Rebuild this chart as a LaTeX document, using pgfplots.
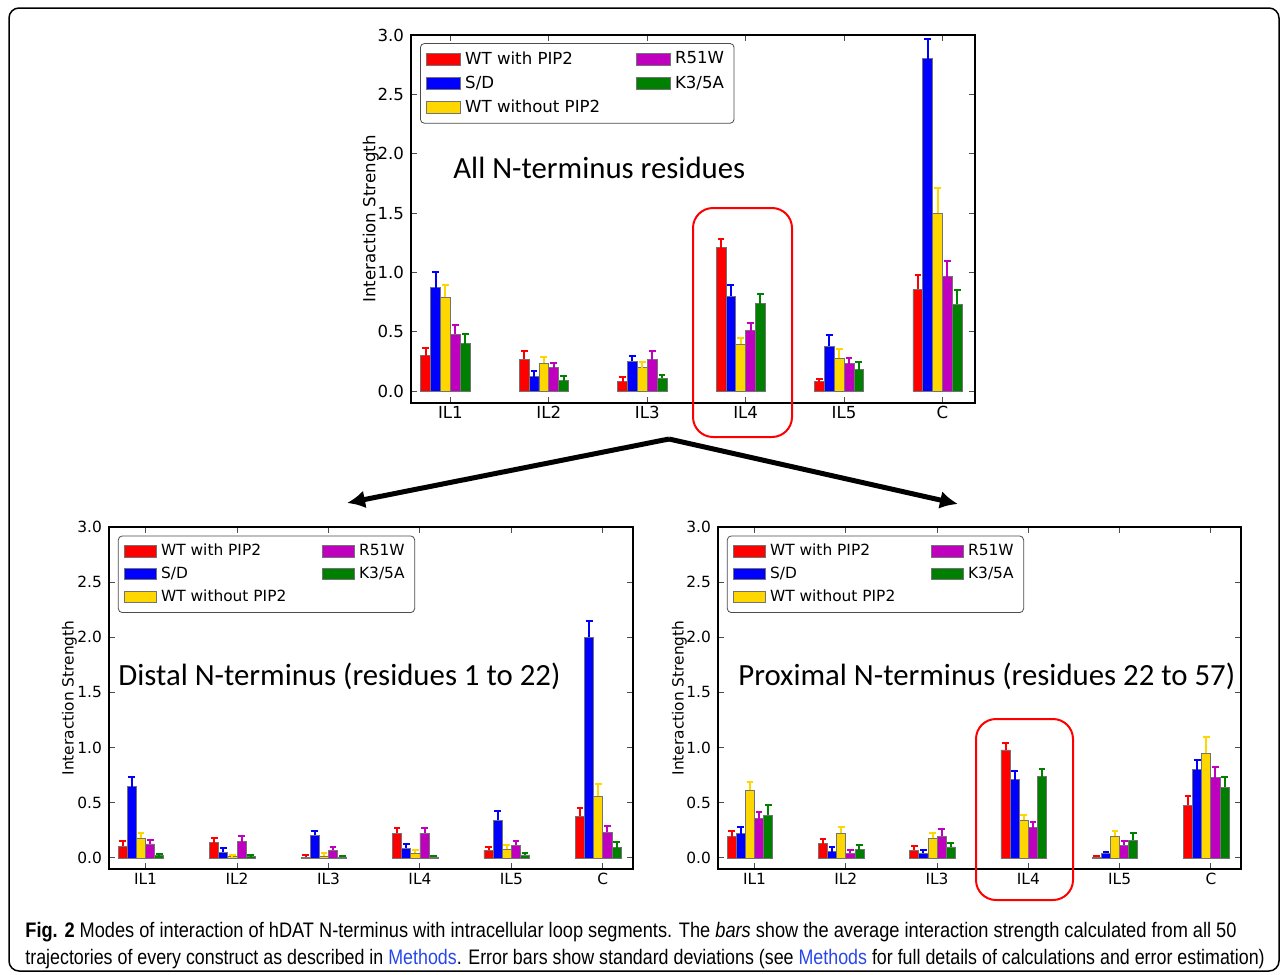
\documentclass[border=0pt]{standalone}
\usepackage{pgfplots}
\pgfplotsset{compat=1.18}
\usepackage{pgfplotstable}
\usepackage{fontspec}
\setmainfont{DejaVu Sans}
\newfontfamily\titlefont{Carlito}
\newfontfamily\capfont[FakeStretch=0.86]{Liberation Sans}
\usetikzlibrary{arrows.meta}

\definecolor{mpred}{rgb}{1,0,0}
\definecolor{mpblue}{rgb}{0,0,1}
\definecolor{mpgold}{RGB}{255,215,0}
\definecolor{mpmag}{rgb}{0.75,0,0.75}
\definecolor{mpgreen}{rgb}{0,0.5,0}
\definecolor{linkblue}{RGB}{40,70,235}

% columns: WT with PIP2, S/D, WT without PIP2, R51W, K3/5A (value, error)
\pgfplotstableread{
cat wr   wre   sd   sde   wo    woe   rw    rwe   ka    kae
0   0.30  0.065 0.87 0.13  0.79  0.10  0.48  0.075 0.40  0.085
1   0.27  0.065 0.12 0.05  0.235 0.055 0.196 0.045 0.087 0.04
2   0.08  0.04  0.25 0.05  0.196 0.05  0.266 0.075 0.11  0.03
3   1.207 0.075 0.80 0.09  0.395 0.056 0.51  0.065 0.737 0.08
4   0.078 0.022 0.38 0.09  0.275 0.08  0.232 0.05  0.182 0.06
5   0.857 0.12  2.80 0.17  1.50  0.21  0.964 0.13  0.73  0.12
}\alltab

\pgfplotstableread{
cat wr   wre   sd   sde   wo    woe   rw    rwe   ka    kae
0   0.105 0.045 0.645 0.093 0.178 0.048 0.127 0.035 0.02  0.016
1   0.139 0.041 0.054 0.036 0.012 0.018 0.148 0.048 0.012 0.015
2   0.006 0.018 0.205 0.042 0.018 0.024 0.069 0.027 0.009 0.009
3   0.226 0.044 0.087 0.039 0.045 0.03  0.226 0.048 0.009 0.006
4   0.072 0.024 0.34  0.09  0.081 0.039 0.117 0.04  0.027 0.018
5   0.376 0.074 2.0   0.148 0.56  0.11  0.232 0.058 0.093 0.052
}\distab

\pgfplotstableread{
cat wr   wre   sd   sde   wo    woe   rw    rwe   ka    kae
0   0.193 0.051 0.22  0.06  0.614 0.073 0.355 0.058 0.386 0.09
1   0.13  0.045 0.057 0.039 0.226 0.054 0.045 0.024 0.075 0.039
2   0.072 0.038 0.045 0.027 0.178 0.048 0.196 0.066 0.10  0.033
3   0.979 0.061 0.71  0.076 0.343 0.047 0.274 0.051 0.735 0.075
4   0.006 0.009 0.042 0.015 0.199 0.048 0.117 0.037 0.16  0.063
5   0.48  0.086 0.80  0.086 0.949 0.147 0.729 0.099 0.639 0.099
}\proxtab

\pgfplotsset{
  panel/.style={
    scale only axis,
    xmin=-0.4, xmax=5.33, ymin=-0.1, ymax=3.0,
    xtick={0,...,5}, xticklabels={IL1,IL2,IL3,IL4,IL5,C},
    ytick={0,0.5,...,3.0},
    yticklabel style={/pgf/number format/.cd, fixed, fixed zerofill, precision=1},
    /pgf/number format/assume math mode=true,
    tick align=inside, major tick length=3pt,
    tick style={black!70, line width=0.5pt},
    axis line style={line width=1pt},
    ylabel={Interaction Strength},
    legend columns=2,
    legend cell align=left,
    legend image code/.code={\draw[#1, sharp corners] (0pt,-3pt) rectangle (17pt,3pt);},
    legend style={anchor=north west, draw=black!70, rounded corners=2pt,
      /tikz/every even column/.append style={column sep=16pt}},
  },
  % one series: bars of width 0.1 at category + offset, upward error bar with cap
  bseries/.style={ybar, bar width=0.1, bar shift=0pt, fill=#1,
    draw=black!55, line width=0.4pt, forget plot,
    error bars/.cd, y dir=plus, y explicit, error mark=-,
    error bar style={#1, line width=1pt},
    error mark options={#1, line width=1pt, mark size=1.7pt, rotate=90}},
}

\newcommand{\plotpanel}[1]{%
  \addplot[bseries=mpred] table[x expr=\thisrow{cat}-0.25, y=wr, y error=wre] {#1};
  \addplot[bseries=mpblue] table[x expr=\thisrow{cat}-0.15, y=sd, y error=sde] {#1};
  \addplot[bseries=mpgold] table[x expr=\thisrow{cat}-0.05, y=wo, y error=woe] {#1};
  \addplot[bseries=mpmag] table[x expr=\thisrow{cat}+0.05, y=rw, y error=rwe] {#1};
  \addplot[bseries=mpgreen] table[x expr=\thisrow{cat}+0.15, y=ka, y error=kae] {#1};
  \addlegendimage{fill=mpred, draw=black!55}\addlegendentry{WT with PIP2}
  \addlegendimage{fill=mpmag, draw=black!55}\addlegendentry{R51W}
  \addlegendimage{fill=mpblue, draw=black!55}\addlegendentry{S/D}
  \addlegendimage{fill=mpgreen, draw=black!55}\addlegendentry{K3/5A}
  \addlegendimage{fill=mpgold, draw=black!55}\addlegendentry{WT without PIP2}
}

\begin{document}
\begin{tikzpicture}
\begin{scope}[x=0.5pt, y=-0.5pt]
  \useasboundingbox (0,0) rectangle (1287,975);
  \draw[line width=0.75pt, rounded corners=5pt] (9,8) rectangle (1279,971);
\end{scope}

% top: all residues
\begin{axis}[panel, at={(205.5pt,-201.5pt)}, anchor=south west,
    width=282pt, height=184pt,
    tick label style={font=\fontsize{8.3}{10}\selectfont},
    xticklabel style={yshift=2pt},
    label style={font=\fontsize{8.3}{10}\selectfont},
    ylabel style={yshift=-7.5pt},
    legend style={at={(0.016,0.978)}, font=\fontsize{8.3}{10}\selectfont, row sep=0.3pt}]
\plotpanel{\alltab}
\end{axis}

% bottom left: distal
\begin{axis}[panel, at={(54.5pt,-434.5pt)}, anchor=south west,
    width=262pt, height=171pt,
    tick label style={font=\fontsize{7.7}{9}\selectfont},
    xticklabel style={yshift=1.5pt},
    label style={font=\fontsize{7.7}{9}\selectfont},
    ylabel style={yshift=-6.5pt},
    legend image code/.code={\draw[#1, sharp corners] (0pt,-2.8pt) rectangle (16pt,2.8pt);},
    legend style={at={(0.017,0.975)}, font=\fontsize{7.7}{9}\selectfont, row sep=0.2pt}]
\plotpanel{\distab}
\end{axis}

% bottom right: proximal
\begin{axis}[panel, at={(359pt,-434.5pt)}, anchor=south west,
    width=261.5pt, height=171pt,
    tick label style={font=\fontsize{7.7}{9}\selectfont},
    xticklabel style={yshift=1.5pt},
    label style={font=\fontsize{7.7}{9}\selectfont},
    ylabel style={yshift=-7pt},
    legend image code/.code={\draw[#1, sharp corners] (0pt,-2.8pt) rectangle (16pt,2.8pt);},
    legend style={at={(0.017,0.975)}, font=\fontsize{7.7}{9}\selectfont, row sep=0.2pt}]
\plotpanel{\proxtab}
\end{axis}

\begin{scope}[x=0.5pt, y=-0.5pt]
  \node[anchor=west, inner sep=0, font=\titlefont\fontsize{15.4}{17}\selectfont] at (453,168) {All N-terminus residues};
  \node[anchor=west, inner sep=0, font=\titlefont\fontsize{15.4}{17}\selectfont] at (118,676) {Distal N-terminus (residues 1 to 22)};
  \node[anchor=west, inner sep=0, font=\titlefont\fontsize{15.4}{17}\selectfont] at (738,676) {Proximal N-terminus (residues 22 to 57)};
  \draw[red, line width=1pt, rounded corners=10pt] (693,208) rectangle (792,437);
  \draw[red, line width=1pt, rounded corners=10pt] (976,719) rectangle (1073,900);
  \draw[line width=2.5pt, -{Latex[length=9pt,width=9pt]}] (669,439) -- (347,503);
  \draw[line width=2.5pt, -{Latex[length=9pt,width=9pt]}] (669,439) -- (958,504);
  \node[anchor=base west, inner sep=0, font=\capfont\fontsize{10.5}{12}\selectfont] at (25,937)
    {\scalebox{1.008}[1]{\textbf{Fig. 2} Modes of interaction of hDAT N-terminus with intracellular loop segments. The \textit{bars} show the average interaction strength calculated from all 50}};
  \node[anchor=base west, inner sep=0, font=\capfont\fontsize{10.5}{12}\selectfont] at (25,964)
    {\scalebox{0.988}[1]{trajectories of every construct as described in \textcolor{linkblue}{Methods}. Error bars show standard deviations (see \textcolor{linkblue}{Methods} for full details of calculations and error estimation)}};
\end{scope}
\end{tikzpicture}
\end{document}
